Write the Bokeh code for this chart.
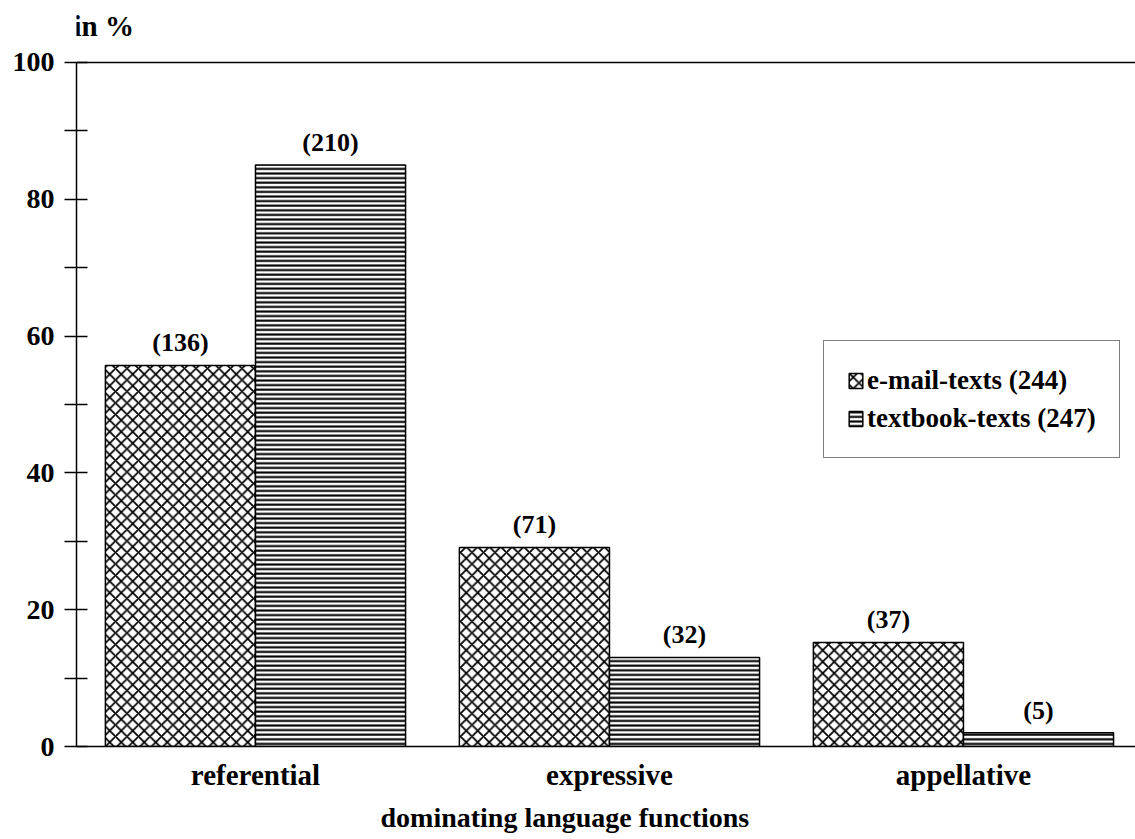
from bokeh.plotting import figure
from bokeh.models import (Range1d, FixedTicker, Span, Title, Label, Legend, LegendItem,
                          ColumnDataSource)
from bokeh.core.properties import value
from bokeh.embed import file_html
from bokeh.resources import INLINE

categories = ["referential", "expressive", "appellative"]
email_pct = [55.7, 29.1, 15.2]
textbook_pct = [85.0, 13.0, 2.0]
email_n = [136, 71, 37]
textbook_n = [210, 32, 5]
series_names = ["e-mail-texts (244)", "textbook-texts (247)"]
y_ticks = [0, 20, 40, 60, 80, 100]
y_minor = [10, 30, 50, 70, 90]

FONT = "Liberation Serif"
pos = [i + 1 for i in range(len(categories))]
bw = 0.424
X0 = 0.4944

p = figure(width=1135, height=839,
           x_range=Range1d(X0, 3.486), y_range=Range1d(0, 107.89),
           output_backend="svg", toolbar_location=None,
           min_border_left=76, min_border_right=0,
           min_border_top=8, min_border_bottom=93)
p.outline_line_color = None
p.xgrid.grid_line_color = None
p.ygrid.grid_line_color = None
p.background_fill_color = "white"
p.border_fill_color = "white"

email_src = ColumnDataSource(dict(x=[c - bw / 2 for c in pos], top=email_pct))
text_src = ColumnDataSource(dict(x=[c + bw / 2 for c in pos], top=textbook_pct))

r1 = p.vbar(x="x", top="top", width=bw, source=email_src,
            fill_color="white", line_color="black", line_width=1.5,
            hatch_pattern="x", hatch_scale=11.5, hatch_weight=1.8,
            hatch_color="black")
r2 = p.vbar(x="x", top="top", width=bw, source=text_src,
            fill_color="white", line_color="black", line_width=1.5,
            hatch_pattern="-", hatch_scale=4.6, hatch_weight=2.1,
            hatch_color="black")

# value labels
lab_x = [c - bw / 2 for c in pos] + [c + bw / 2 for c in pos]
lab_y = [v + 1.2 for v in email_pct] + [v + 1.2 for v in textbook_pct]
lab_t = [f"({n})" for n in email_n] + [f"({n})" for n in textbook_n]
p.text(x=lab_x, y=lab_y, text=lab_t, text_align="center", text_baseline="bottom",
       text_font=value(FONT), text_font_style="bold", text_font_size="26px",
       text_color="black")

# top border line at 100 %
p.add_layout(Span(location=100, dimension="width", line_color="black", line_width=1.5))

# y axis
ya = p.yaxis[0]
ya.bounds = (0, 100)
ya.ticker = FixedTicker(ticks=y_ticks, minor_ticks=y_minor)
ya.major_tick_in = 11
ya.major_tick_out = 12
ya.minor_tick_in = 11
ya.minor_tick_out = 12
ya.major_tick_line_width = 1.5
ya.minor_tick_line_width = 1.5
ya.axis_line_width = 1.5
ya.major_tick_line_color = "black"
ya.minor_tick_line_color = "black"
ya.axis_line_color = "black"
ya.major_label_standoff = 10
ya.major_label_text_font = FONT
ya.major_label_text_font_style = "bold"
ya.major_label_text_font_size = "28px"
ya.major_label_text_color = "black"

# x axis
xa = p.xaxis[0]
xa.ticker = FixedTicker(ticks=pos, minor_ticks=[])
xa.major_label_overrides = {c: n for c, n in zip(pos, categories)}
xa.major_tick_in = 0
xa.major_tick_out = 0
xa.minor_tick_in = 0
xa.minor_tick_out = 0
xa.axis_line_width = 1.5
xa.axis_line_color = "black"
xa.major_label_standoff = 12
xa.major_label_text_font = FONT
xa.major_label_text_font_style = "bold"
xa.major_label_text_font_size = "29px"
xa.major_label_text_color = "black"

# x axis title, as a below-title so it can sit left of centre like the original
p.add_layout(Title(text="dominating language functions", align="left", offset=304,
                   standoff=12, text_font=FONT, text_font_style="bold",
                   text_font_size="28px", text_color="black"), "below")

# "in %" unit label
p.add_layout(Label(x=X0, y=105.4, x_offset=-3, text="in %",
                   text_font=FONT, text_font_style="bold", text_font_size="29px",
                   text_align="left", text_baseline="alphabetic", text_color="black"))

legend = Legend(items=[LegendItem(label=series_names[0], renderers=[r1]),
                       LegendItem(label=series_names[1], renderers=[r2])],
                location=(747, 288))
legend.border_line_color = "black"
legend.border_line_width = 1.3
legend.background_fill_color = "white"
legend.background_fill_alpha = 1
legend.label_text_font = FONT
legend.label_text_font_style = "bold"
legend.label_text_font_size = "27px"
legend.label_text_color = "black"
legend.glyph_width = 17
legend.glyph_height = 19
legend.label_standoff = 3
legend.padding = 23
legend.spacing = 6
legend.label_height = 32
legend.margin = 0
p.add_layout(legend, "center")

open("out.html", "w").write(file_html(p, INLINE))
